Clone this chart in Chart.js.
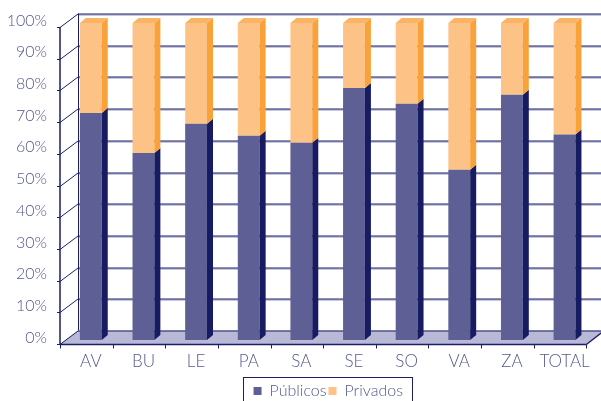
<!DOCTYPE html>
<html>
<head>
<meta charset="utf-8">
<script src="https://cdn.jsdelivr.net/npm/chart.js@4"></script>
<style>
  html, body { margin: 0; background: #fff; }
  #wrap { width: 601px; height: 401px; }
</style>
</head>
<body>
<div id="wrap"><canvas id="chart" width="601" height="401"></canvas></div>
<script>
var categories = ["AV", "BU", "LE", "PA", "SA", "SE", "SO", "VA", "ZA", "TOTAL"];
var publicos = [71.6, 59, 68.2, 64.4, 62.2, 79.5, 74.5, 53.7, 77.4, 64.8];
var privados = [28.4, 41, 31.8, 35.6, 37.8, 20.5, 25.5, 46.3, 22.6, 35.2];
var yTicks = [0, 10, 20, 30, 40, 50, 60, 70, 80, 90, 100];

var navy = "#1b1e64";
var lavender = "#8d8fc0";
var textColor = "#55598f";
var floorColor = "#b9b9d7";

// offsets of the front edge and back wall from the plane the bars stand in
var front = { x: -4.5, y: 4 };
var back = { x: 13.5, y: -9.5 };
var depth = { x: 6, y: -5 };

Chart.defaults.font.family = 'Lato, "Open Sans", sans-serif';
Chart.defaults.font.weight = 300;
Chart.defaults.color = textColor;

function line(ctx, x1, y1, x2, y2, color) {
  ctx.strokeStyle = color;
  ctx.beginPath();
  ctx.moveTo(x1, y1);
  ctx.lineTo(x2, y2);
  ctx.stroke();
}

var box3d = {
  id: "box3d",
  afterLayout: function (chart) {
    // move the legend right and down, cut by the bottom edge like the original
    var lg = chart.legend;
    lg.left += 31;
    lg.right += 31;
    lg.top += 8;
    lg.bottom += 8;
  },
  beforeDatasetsDraw: function (chart) {
    var ctx = chart.ctx;
    var area = chart.chartArea;
    var xs = chart.scales.x;
    var ys = chart.scales.y;
    var y0 = ys.getPixelForValue(0);

    ctx.save();
    ctx.lineWidth = 1;

    // floor
    ctx.fillStyle = floorColor;
    ctx.beginPath();
    ctx.moveTo(area.left + front.x, y0 + front.y);
    ctx.lineTo(area.right + front.x, y0 + front.y);
    ctx.lineTo(area.right + back.x, y0 + back.y);
    ctx.lineTo(area.left + back.x, y0 + back.y);
    ctx.closePath();
    ctx.fill();

    yTicks.forEach(function (v) {
      var yy = Math.round(ys.getPixelForValue(v)) + 0.5;
      var bx = area.left + back.x;
      var fx = area.left + front.x;
      if (v > 0) {
        line(ctx, bx, yy + back.y + 1, chart.width, yy + back.y + 1, lavender);
      }
      line(ctx, bx, yy + back.y, chart.width, yy + back.y, navy);
      line(ctx, fx, yy + front.y, bx, yy + back.y, navy);
      line(ctx, fx - 3, yy + front.y, fx, yy + front.y, navy);
    });

    var top = ys.getPixelForValue(100);
    // left wall back edge and front axis
    line(ctx, area.left + back.x + 0.5, top + back.y, area.left + back.x + 0.5, y0 + back.y, navy);
    ctx.lineWidth = 1.5;
    line(ctx, area.left + front.x, top + front.y, area.left + front.x, y0 + front.y, navy);

    // front floor edge with category ticks
    var fy = Math.round(y0 + front.y) + 0.5;
    line(ctx, area.left + front.x, fy, area.right + front.x, fy, navy);
    line(ctx, area.right + front.x, fy, area.right + back.x, y0 + back.y, navy);
    ctx.lineWidth = 1;
    for (var k = 0; k <= categories.length; k++) {
      var tx = Math.round(xs.getPixelForValue(k - 0.5) + front.x) + 0.5;
      line(ctx, tx, fy, tx, fy + 4, navy);
    }
    ctx.restore();
  },
  afterDatasetsDraw: function (chart) {
    var ctx = chart.ctx;
    var sides = ["#171b62", "#f9a23a"];
    var lastIndex = chart.data.datasets.length - 1;
    ctx.save();
    chart.data.datasets.forEach(function (ds, di) {
      chart.getDatasetMeta(di).data.forEach(function (bar) {
        var p = bar.getProps(["x", "y", "base", "width"], true);
        var l = p.x - p.width / 2;
        var r = p.x + p.width / 2;
        var t = Math.min(p.y, p.base);
        var b = Math.max(p.y, p.base);
        ctx.fillStyle = sides[di];
        ctx.beginPath();
        ctx.moveTo(r, t);
        ctx.lineTo(r + depth.x, t + depth.y);
        ctx.lineTo(r + depth.x, b + depth.y);
        ctx.lineTo(r, b);
        ctx.closePath();
        ctx.fill();
        if (di === lastIndex) {
          ctx.fillStyle = "#fbb466";
          ctx.beginPath();
          ctx.moveTo(l, t);
          ctx.lineTo(l + depth.x, t + depth.y);
          ctx.lineTo(r + depth.x, t + depth.y);
          ctx.lineTo(r, t);
          ctx.closePath();
          ctx.fill();
        }
      });
    });
    ctx.restore();
  },
  afterDraw: function (chart) {
    var hb = chart.legend.legendHitBoxes;
    if (!hb || !hb.length) {
      return;
    }
    var ctx = chart.ctx;
    var last = hb[hb.length - 1];
    var l = Math.round(hb[0].left - 11) + 0.5;
    var r = Math.round(last.left + last.width + 9) + 0.5;
    var t = Math.round(hb[0].top - 6) + 0.5;
    ctx.save();
    ctx.strokeStyle = navy;
    ctx.lineWidth = 1;
    ctx.strokeRect(l, t, r - l, chart.height + 5 - t);
    ctx.restore();
  }
};

new Chart(document.getElementById("chart"), {
  type: "bar",
  data: {
    labels: categories,
    datasets: [
      {
        label: "Públicos",
        data: publicos,
        backgroundColor: "#5e5f95",
        borderWidth: 0,
        barPercentage: 0.415,
        categoryPercentage: 1
      },
      {
        label: "Privados",
        data: privados,
        backgroundColor: "#fdc386",
        borderWidth: 0,
        barPercentage: 0.415,
        categoryPercentage: 1
      }
    ]
  },
  options: {
    responsive: false,
    animation: false,
    layout: {
      padding: { left: 0, right: 6.5, top: 23, bottom: 0 }
    },
    plugins: {
      tooltip: { enabled: false },
      legend: {
        position: "bottom",
        labels: {
          boxWidth: 8,
          boxHeight: 8,
          padding: 2,
          color: textColor,
          font: { size: 16 }
        }
      }
    },
    scales: {
      x: {
        stacked: true,
        grid: { display: false, drawTicks: false },
        border: { display: false },
        ticks: {
          color: textColor,
          padding: 11,
          maxRotation: 0,
          minRotation: 0,
          autoSkip: false,
          font: { size: 17 }
        },
        afterFit: function (scale) {
          scale.height = 33;
        }
      },
      y: {
        stacked: true,
        min: 0,
        max: 100,
        grid: { display: false, drawTicks: false },
        border: { display: false },
        ticks: {
          stepSize: 10,
          padding: 17.5,
          labelOffset: -2.5,
          color: textColor,
          font: { size: 16, lineHeight: 0.5 },
          callback: function (value) {
            return value + "%";
          }
        },
        afterFit: function (scale) {
          scale.width = 64.5;
        }
      }
    }
  },
  plugins: [box3d]
});
</script>
</body>
</html>
